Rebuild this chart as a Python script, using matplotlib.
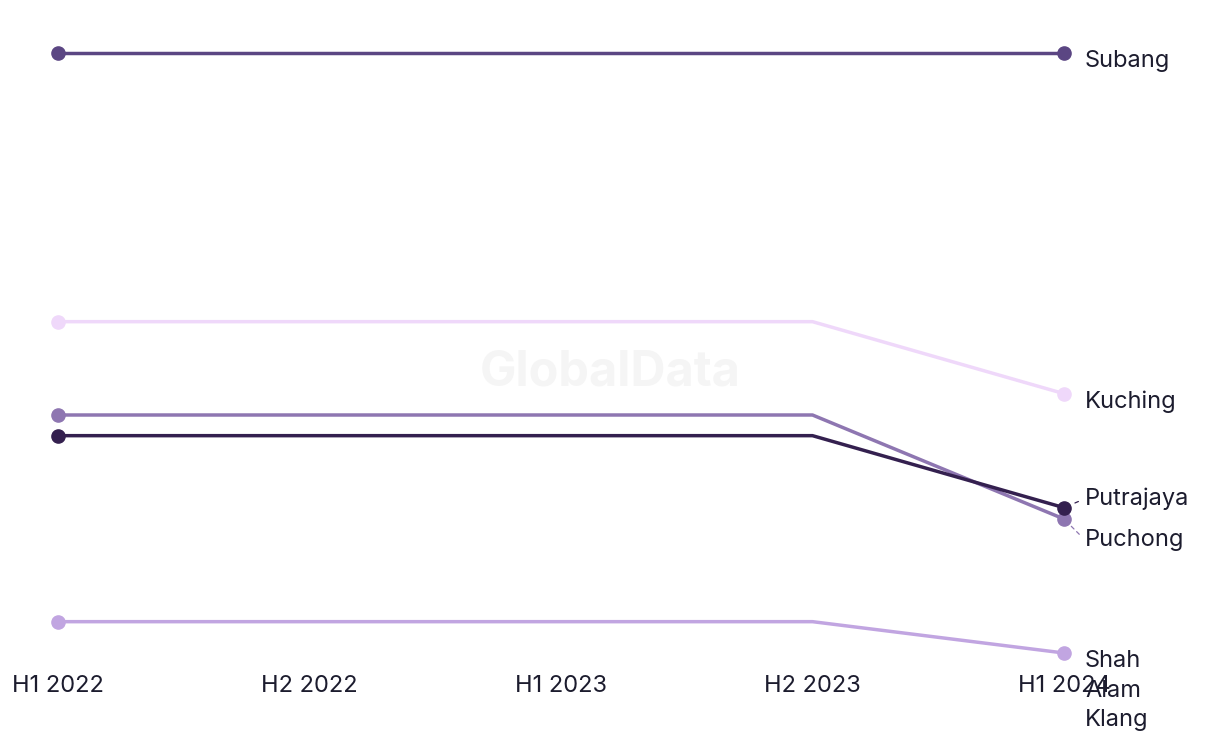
import matplotlib
matplotlib.use("Agg")
from matplotlib import pyplot as plt

# data
periods = ["H1 2022", "H2 2022", "H1 2023", "H2 2023", "H1 2024"]
subang = [10.0, 10.0, 10.0, 10.0, 10.0]
kuching = [5.97, 5.97, 5.97, 5.97, 4.89]
puchong = [4.57, 4.57, 4.57, 4.57, 3.01]
putrajaya = [4.26, 4.26, 4.26, 4.26, 3.18]
shah_alam = [1.47, 1.47, 1.47, 1.47, 1.0]

# name, values, colour, label shift in pixels, connector?
series = [
	("Subang", subang, "#5b4683", -8, False),
	("Kuching", kuching, "#efd8fa", -8, False),
	("Puchong", puchong, "#8e76b1", -21, True),
	("Putrajaya", putrajaya, "#34204f", 9, True),
	("Shah\nAlam\nKlang", shah_alam, "#c1a5e1", 3, False),
]

plt.rcParams['font.family'] = ['Inter', 'DejaVu Sans']

fig = plt.figure(figsize=(12.2, 7.44), dpi=100)
ax = fig.add_axes([58 / 1220, (744 - 653) / 744, (1064 - 58) / 1220, 600 / 744])
x = list(range(len(periods)))

ax.text(0.549, 0.467, "GlobalData", transform=ax.transAxes, ha="center", va="center",
	fontsize=35, fontweight="bold", color="#f5f5f5", zorder=0)

for name, vals, color, shift, conn in series:
	ax.plot(x, vals, color=color, lw=2.5, marker="o", markersize=9.5,
		markevery=[0, len(x) - 1], clip_on=False, zorder=3)
	if "\n" in name:
		ax.annotate(name, (x[-1], vals[-1]), xytext=(21, shift), textcoords="offset pixels",
			ha="left", va="top", fontsize=17, color="#1c1c2e", linespacing=1.45)
	elif conn:
		ax.annotate(name, (x[-1], vals[-1]), xytext=(21, shift), textcoords="offset pixels",
			ha="left", va="center", fontsize=17, color="#1c1c2e",
			arrowprops=dict(arrowstyle="-", ls=(0, (3, 3)), color=color, lw=0.9,
				shrinkA=3, shrinkB=6, relpos=(0, 0.5)))
	else:
		ax.annotate(name, (x[-1], vals[-1]), xytext=(21, shift), textcoords="offset pixels",
			ha="left", va="center", fontsize=17, color="#1c1c2e")

ax.set_xlim(0, 4)
ax.set_ylim(1.0, 10.0)
ax.set_xticks(x)
ax.set_xticklabels(periods, fontsize=17, color="#1c1c2e")
ax.tick_params(axis="x", length=0, pad=16)
ax.set_yticks([])
for s in ax.spines.values():
	s.set_visible(False)

fig.savefig("out.png", dpi=100)
